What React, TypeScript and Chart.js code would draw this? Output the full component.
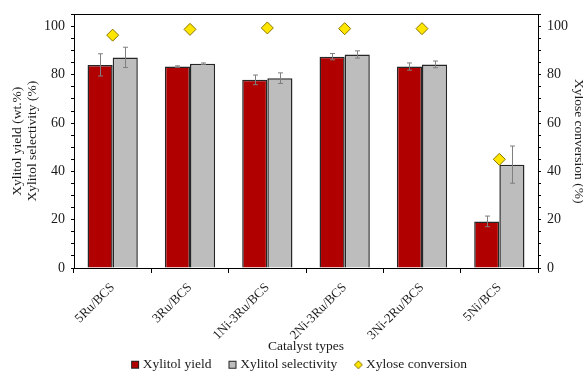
import React, { useEffect, useRef } from "react";
import { Chart, registerables } from "chart.js";

Chart.register(...registerables);

const categories = ["5Ru/BCS", "3Ru/BCS", "1Ni-3Ru/BCS", "2Ni-3Ru/BCS", "3Ni-2Ru/BCS", "5Ni/BCS"];
const xylitolYield = [84.1, 83.4, 77.9, 87.5, 83.4, 19.3];
const yieldError = [4.6, 0.3, 2.0, 1.3, 1.5, 2.2];
const xylitolSelectivity = [87.2, 84.6, 78.6, 88.4, 84.3, 42.8];
const selectivityError = [4.2, 0.3, 2.2, 1.5, 1.4, 7.7];
const xyloseConversion = [96.4, 98.8, 99.4, 99.1, 99.1, 45.0];

const FONT = "'Liberation Serif', 'Times New Roman', serif";
const RED = "#B00000";
const GRAY = "#BDBDBD";
const YELLOW = "#FFE600";
const INK = "#1a1a1a";

function legendSwatch(kind: "rect" | "diamond", fill: string, stroke: string) {
  const c = document.createElement("canvas");
  c.width = 10;
  c.height = 10;
  const g = c.getContext("2d")!;
  g.fillStyle = fill;
  g.strokeStyle = stroke;
  g.lineWidth = 1;
  if (kind === "rect") {
    g.fillRect(1, 1, 8, 8);
    g.strokeRect(1.5, 1.5, 7, 7);
  } else {
    g.beginPath();
    g.moveTo(5, 1);
    g.lineTo(9, 5);
    g.lineTo(5, 9);
    g.lineTo(1, 5);
    g.closePath();
    g.fill();
    g.stroke();
  }
  return c;
}

// vertical ± error bars centred on each bar of datasets that carry `errors`
const errorBars = {
  id: "errorBars",
  afterDatasetDraw(chart: any, args: any) {
    const ds = chart.data.datasets[args.index];
    const errs: number[] | undefined = ds.errors;
    if (!errs) return;
    const meta = chart.getDatasetMeta(args.index);
    const y = chart.scales.y;
    const ctx = chart.ctx;
    ctx.save();
    ctx.strokeStyle = "#7f7f7f";
    ctx.lineWidth = 1;
    meta.data.forEach((bar: any, i: number) => {
      const v = ds.data[i];
      const e = errs[i];
      const x = Math.round(bar.x) + 0.5;
      const yTop = y.getPixelForValue(v + e);
      const yBot = y.getPixelForValue(v - e);
      ctx.beginPath();
      ctx.moveTo(x, yTop);
      ctx.lineTo(x, yBot);
      ctx.moveTo(x - 2.5, yTop);
      ctx.lineTo(x + 2.5, yTop);
      ctx.moveTo(x - 2.5, yBot);
      ctx.lineTo(x + 2.5, yBot);
      ctx.stroke();
    });
    ctx.restore();
  },
};

// closed box around the plot area
const plotFrame = {
  id: "plotFrame",
  beforeDatasetsDraw(chart: any) {
    const { left, top, right, bottom } = chart.chartArea;
    const ctx = chart.ctx;
    ctx.save();
    ctx.strokeStyle = "#000";
    ctx.lineWidth = 1;
    ctx.strokeRect(Math.round(left) + 0.5, Math.round(top) + 0.5, Math.round(right - left), Math.round(bottom - top));
    ctx.restore();
  },
};

// centre the legend row under the plot area and pull it up under the axis title
const legendShift = {
  id: "legendShift",
  afterLayout(chart: any) {
    const lg = chart.legend;
    if (!lg) return;
    lg.left += 9;
    lg.right += 9;
    lg.top -= 10;
    lg.bottom -= 10;
  },
};

const tickLabel = (v: any) => (Number(v) % 20 === 0 && Number(v) <= 100 ? String(v) : "");

export default function App() {
  const ref = useRef<HTMLCanvasElement | null>(null);

  useEffect(() => {
    if (!ref.current) return;
    const swatches = [
      legendSwatch("rect", RED, "#222"),
      legendSwatch("rect", GRAY, "#222"),
      legendSwatch("diamond", YELLOW, "#8a7400"),
    ];
    const chart = new Chart(ref.current, {
      type: "bar",
      data: {
        labels: categories,
        datasets: [
          {
            type: "bar",
            label: "Xylitol yield",
            data: xylitolYield,
            errors: yieldError,
            backgroundColor: RED,
            borderColor: "#262626",
            borderWidth: 1.5,
            yAxisID: "y",
            order: 2,
            barPercentage: 1,
            categoryPercentage: 0.65,
          } as any,
          {
            type: "bar",
            label: "Xylitol selectivity",
            data: xylitolSelectivity,
            errors: selectivityError,
            backgroundColor: GRAY,
            borderColor: "#262626",
            borderWidth: 1.5,
            yAxisID: "y",
            order: 2,
            barPercentage: 1,
            categoryPercentage: 0.65,
          } as any,
          {
            type: "line",
            label: "Xylose conversion",
            data: xyloseConversion,
            yAxisID: "y1",
            showLine: false,
            pointStyle: "rectRot",
            pointRadius: 6,
            pointBackgroundColor: YELLOW,
            pointBorderColor: "#8a7400",
            pointBorderWidth: 1,
            order: 0,
          } as any,
        ],
      },
      options: {
        animation: false,
        responsive: false,
        maintainAspectRatio: false,
        layout: { padding: { top: 13, left: 0, right: 0, bottom: -18.5 } },
        plugins: {
          tooltip: { enabled: false },
          legend: {
            position: "bottom",
            labels: {
              font: { family: FONT, size: 13.5 },
              color: INK,
              usePointStyle: true,
              boxWidth: 2,
              boxHeight: 9,
              padding: 20,
              generateLabels: (c: any) =>
                c.data.datasets.map((d: any, i: number) => ({
                  text: d.label,
                  pointStyle: swatches[i],
                  fillStyle: "transparent",
                  strokeStyle: "transparent",
                  lineWidth: 0,
                  hidden: false,
                  datasetIndex: i,
                  fontColor: INK,
                })),
            },
          },
        },
        scales: {
          x: {
            offset: true,
            grid: { offset: true, drawOnChartArea: false, tickLength: 5, color: "#000" },
            border: { color: "#000", width: 1 },
            ticks: {
              font: { family: FONT, size: 13 },
              color: INK,
              maxRotation: 45,
              minRotation: 45,
              padding: 7,
            },
            title: {
              display: true,
              text: "Catalyst types",
              font: { family: FONT, size: 13.5 },
              color: INK,
              padding: { top: 0, bottom: -7 },
            },
            afterFit: (s: any) => {
              s.height = 80;
            },
          },
          y: {
            position: "left",
            min: 0,
            max: 105,
            grid: { drawOnChartArea: false, tickLength: 3, color: "#000" },
            border: { color: "#000", width: 1 },
            ticks: {
              stepSize: 5,
              autoSkip: false,
              font: { family: FONT, size: 14 },
              color: INK,
              padding: 6,
              callback: tickLabel,
            },
            title: {
              display: true,
              text: ["Xylitol yield (wt.%)", "Xylitol selectivity (%)"],
              font: { family: FONT, size: 13.5, lineHeight: 1.1 },
              color: INK,
              padding: { top: 10.5, bottom: 0 },
            },
            afterFit: (s: any) => {
              s.width = 74;
            },
          },
          y1: {
            position: "right",
            min: 0,
            max: 105,
            grid: { drawOnChartArea: false, tickLength: 3, color: "#000" },
            border: { color: "#000", width: 1 },
            ticks: {
              stepSize: 5,
              autoSkip: false,
              font: { family: FONT, size: 14 },
              color: INK,
              padding: 6,
              callback: tickLabel,
            },
            title: {
              display: true,
              text: "Xylose conversion (%)",
              font: { family: FONT, size: 13.5 },
              color: INK,
              padding: { top: -3.5, bottom: 0 },
            },
            afterFit: (s: any) => {
              s.width = 45;
            },
          },
        },
      } as any,
      plugins: [errorBars, plotFrame, legendShift],
    });
    return () => chart.destroy();
  }, []);

  return (
    <div style={{ position: "fixed", left: 0, top: 0, width: 583, height: 373, background: "#fff" }}>
      <canvas ref={ref} width={583} height={373} style={{ display: "block" }} />
    </div>
  );
}
